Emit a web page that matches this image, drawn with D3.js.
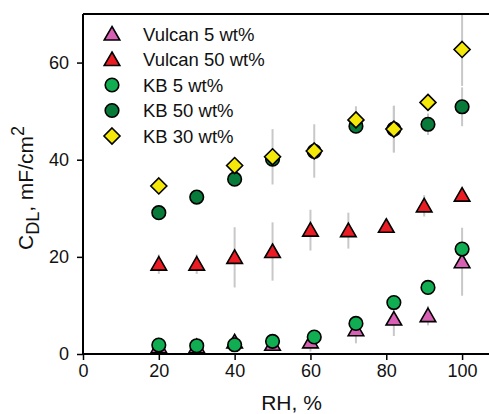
<!DOCTYPE html>
<html>
<head>
<meta charset="utf-8">
<script src="https://cdn.jsdelivr.net/npm/d3@7"></script>
<style>
  body { margin: 0; background: #fff; }
  svg { font-family: "Liberation Sans", Arial, sans-serif; }
</style>
</head>
<body>
<div id="chart"></div>
<script>
// Chart size
const svgWidth = 489;
const svgHeight = 414;
const margin = { top: 14, right: 0, bottom: 60, left: 83 };

// Data (RH %, C_DL mF/cm2, error bar half width)
const vulcan5X = [20, 30, 40, 50, 60, 72, 82, 91, 100];
const vulcan5Y = [1.5, 1.5, 2.5, 2.0, 2.5, 5.0, 7.2, 7.9, 19.0];
const vulcan5Err = [0.5, 0.5, 1, 0.5, 2, 2.8, 3.5, 2, 7];

const vulcan50X = [20, 30, 40, 50, 60, 70, 80, 90, 100];
const vulcan50Y = [18.5, 18.5, 19.9, 21.1, 25.5, 25.4, 26.3, 30.5, 32.7];
const vulcan50Err = [2, 2, 6.2, 6, 4.2, 3.7, 0.5, 2.2, 0.5];

const kb5X = [20, 30, 40, 50, 61, 72, 82, 91, 100];
const kb5Y = [1.85, 1.7, 1.9, 2.6, 3.5, 6.3, 10.6, 13.7, 21.6];
const kb5Err = [0.3, 0.3, 0.3, 0.3, 0.5, 0.5, 0.5, 0.5, 0.5];

const kb50X = [20, 30, 40, 50, 61, 72, 82, 91, 100];
const kb50Y = [29.1, 32.3, 36.0, 40.1, 41.7, 46.9, 46.3, 47.3, 50.9];
const kb50Err = [0.5, 0.5, 0.5, 1, 1, 1, 4.8, 2.2, 4];

const kb30X = [20, 40, 50, 61, 72, 82, 91, 100];
const kb30Y = [34.6, 38.8, 40.6, 41.8, 48.2, 46.3, 51.8, 62.7];
const kb30Err = [0.5, 0.5, 5.7, 5.5, 2.8, 4.8, 1.5, 7.5];

const xTicks = [0, 20, 40, 60, 80, 100];
const yTicks = [0, 20, 40, 60];

const series = [
  { name: "Vulcan 5 wt%", x: vulcan5X, y: vulcan5Y, err: vulcan5Err, shape: "triangle", fill: "#d860b4" },
  { name: "Vulcan 50 wt%", x: vulcan50X, y: vulcan50Y, err: vulcan50Err, shape: "triangle", fill: "#ec1c24" },
  { name: "KB 5 wt%", x: kb5X, y: kb5Y, err: kb5Err, shape: "circle", fill: "#10ad52" },
  { name: "KB 50 wt%", x: kb50X, y: kb50Y, err: kb50Err, shape: "circle", fill: "#087a3a" },
  { name: "KB 30 wt%", x: kb30X, y: kb30Y, err: kb30Err, shape: "diamond", fill: "#f4e80a" }
];

const width = 500 - margin.left;
const height = 354 - margin.top;

const svg = d3.select("#chart").append("svg")
  .attr("width", svgWidth)
  .attr("height", svgHeight);

const chart = svg.append("g")
  .attr("transform", "translate(" + margin.left + "," + margin.top + ")");

// Scales
const xScale = d3.scaleLinear().domain([0, 110]).range([0, width]);
const yScale = d3.scaleLinear().domain([0, 70]).range([height, 0]);

// Marker shapes
function markerPath(shape) {
  if (shape === "triangle") return d3.symbol().type(d3.symbolTriangle).size(105)();
  if (shape === "diamond") return "M0,-8L8,0L0,8L-8,0Z";
  return d3.symbol().type(d3.symbolCircle).size(145)();
}

// Error bars first, so markers sit on top
series.forEach(function(s) {
  chart.append("g").selectAll("line")
    .data(s.x.map(function(d, i) { return { x: d, y: s.y[i], e: s.err[i] }; }))
    .enter()
    .append("line")
    .attr("x1", function(d) { return xScale(d.x); })
    .attr("x2", function(d) { return xScale(d.x); })
    .attr("y1", function(d) { return yScale(Math.min(d.y + d.e, 70)); })
    .attr("y2", function(d) { return yScale(d.y - d.e); })
    .attr("stroke", "#c8c8c8")
    .attr("stroke-width", 2);
});

// Markers
series.forEach(function(s) {
  chart.append("g").selectAll("path")
    .data(s.x.map(function(d, i) { return { x: d, y: s.y[i] }; }))
    .enter()
    .append("path")
    .attr("d", markerPath(s.shape))
    .attr("transform", function(d) {
      const dy = s.shape === "triangle" ? 1.5 : 0;
      return "translate(" + xScale(d.x) + "," + (yScale(d.y) + dy) + ")";
    })
    .attr("fill", s.fill)
    .attr("stroke", "#000")
    .attr("stroke-width", 1.6);
});

// Axes
const bottomAxis = d3.axisBottom(xScale).tickValues(xTicks).tickSize(6).tickPadding(4);
const leftAxis = d3.axisLeft(yScale).tickValues(yTicks).tickSize(6).tickPadding(8);

const xAxisG = chart.append("g")
  .attr("transform", "translate(0," + height + ")")
  .call(bottomAxis);
const yAxisG = chart.append("g").call(leftAxis);

[xAxisG, yAxisG].forEach(function(g) {
  g.select(".domain").attr("stroke", "#000").attr("stroke-width", 2);
  g.selectAll(".tick line").attr("stroke", "#000").attr("stroke-width", 1.5);
  g.selectAll(".tick text")
    .attr("fill", "#111")
    .style("font-size", "18px")
    .style("font-family", "'Liberation Sans', Arial, sans-serif");
});
xAxisG.select(".domain").attr("d", "M0,0H" + width);
yAxisG.select(".domain").attr("d", "M0," + height + "V0");

// Top frame line
chart.append("line")
  .attr("x1", 0).attr("x2", width)
  .attr("y1", 0).attr("y2", 0)
  .attr("stroke", "#000")
  .attr("stroke-width", 2);

// Axis titles
chart.append("text")
  .attr("x", width / 2)
  .attr("y", height + 56)
  .attr("text-anchor", "middle")
  .style("font-size", "21px")
  .attr("fill", "#111")
  .text("RH, %");

const yTitle = svg.append("text")
  .attr("transform", "translate(33,188) rotate(-90)")
  .attr("text-anchor", "middle")
  .attr("fill", "#111")
  .style("font-size", "21px");
yTitle.append("tspan").text("C");
yTitle.append("tspan").attr("dy", 6).style("font-size", "18px").text("DL");
yTitle.append("tspan").attr("dy", -6).text(", mF/cm");
yTitle.append("tspan").attr("dy", -9).style("font-size", "18px").text("2");

// Legend
const legend = svg.append("g");
series.forEach(function(s, i) {
  const ly = 34 + i * 25.5;
  legend.append("path")
    .attr("d", markerPath(s.shape))
    .attr("transform", "translate(112," + (ly + (s.shape === "triangle" ? 1.5 : 0)) + ")")
    .attr("fill", s.fill)
    .attr("stroke", "#000")
    .attr("stroke-width", 1.6);
  legend.append("text")
    .attr("x", 143)
    .attr("y", ly + 6.5)
    .style("font-size", "18.5px")
    .attr("fill", "#111")
    .text(s.name);
});
</script>
</body>
</html>
